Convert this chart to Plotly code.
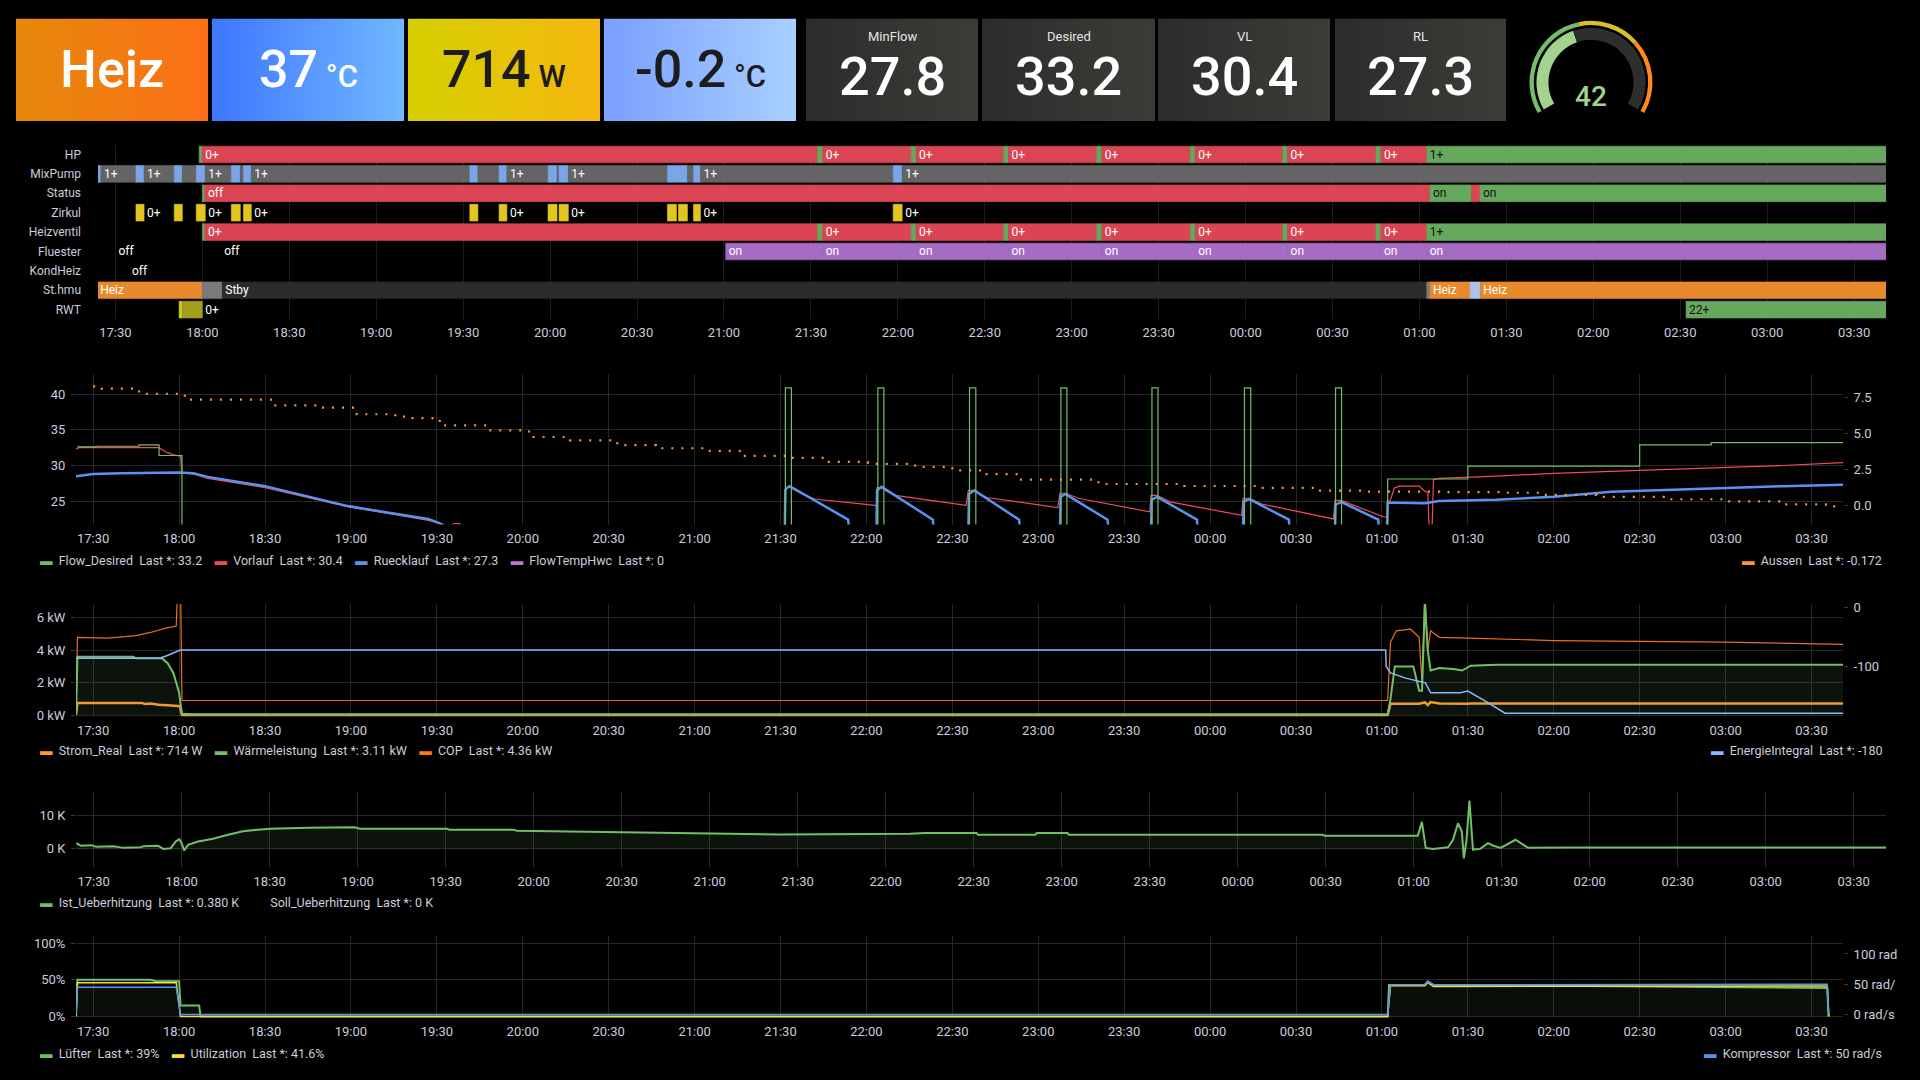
import plotly.graph_objects as go
from datetime import datetime, timedelta

W, H = 1920, 1080
DAY = datetime(2024, 1, 10)


def T(s):
    p = [int(v) for v in s.split(":")]
    while len(p) < 3:
        p.append(0)
    d = DAY + timedelta(hours=p[0], minutes=p[1], seconds=p[2])
    if p[0] < 12:
        d += timedelta(days=1)
    return d


def TL(lst):
    return [T(s) for s in lst]


def fx(x):
    return x / W


def fy(y):
    return 1 - y / H


X_RANGE = [T("17:24"), T("03:41")]
TICK0 = T("17:30")

# ---------------- stat panels ----------------
stat_values = ["Heiz", "37", "714", "-0.2"]
stat_units = ["", "°C", "W", "°C"]
dark_titles = ["MinFlow", "Desired", "VL", "RL"]
dark_values = ["27.8", "33.2", "30.4", "27.3"]
gauge_value = 42
gauge_min, gauge_max = 0, 100
gauge_thresholds = [(0, 45, "#73bf69"), (45, 70, "#d8c028"), (70, 100, "#ff8a1c")]

# ---------------- state timeline ----------------
tl_rows = ["HP", "MixPump", "Status", "Zirkul", "Heizventil", "Fluester", "KondHeiz", "St.hmu", "RWT"]

hp_seg = [("17:58:54", "18:00:00", "1+"), ("18:00:00", "21:32:18", "0+"), ("21:32:18", "21:34:06", "1+"),
          ("21:34:06", "22:04:36", "0+"), ("22:04:36", "22:06:18", "1+"), ("22:06:18", "22:36:30", "0+"),
          ("22:36:30", "22:38:12", "1+"), ("22:38:12", "23:08:36", "0+"), ("23:08:36", "23:10:24", "1+"),
          ("23:10:24", "23:40:54", "0+"), ("23:40:54", "23:42:36", "1+"), ("23:42:36", "00:12:48", "0+"),
          ("00:12:48", "00:14:30", "1+"), ("00:14:30", "00:45:00", "0+"), ("00:45:00", "00:46:42", "1+"),
          ("00:46:42", "01:02:30", "0+"), ("01:02:30", "03:41:00", "1+")]
mix_seg = [("17:24:00", "17:25:00", "0"), ("17:25:00", "17:37:06", "1+"), ("17:37:06", "17:39:54", "0"),
           ("17:39:54", "17:50:18", "1+"), ("17:50:18", "17:53:06", "0"), ("17:53:06", "17:57:54", "1+"),
           ("17:57:54", "18:01:00", "0"), ("18:01:00", "18:10:00", "1+"), ("18:10:00", "18:13:06", "0"),
           ("18:13:06", "18:14:12", "1+"), ("18:14:12", "18:16:54", "0"), ("18:16:54", "19:32:18", "1+"),
           ("19:32:18", "19:35:06", "0"), ("19:35:06", "19:42:24", "1+"), ("19:42:24", "19:45:06", "0"),
           ("19:45:06", "19:59:18", "1+"), ("19:59:18", "20:02:24", "0"), ("20:02:24", "20:03:06", "1+"),
           ("20:03:06", "20:06:18", "0"), ("20:06:18", "20:40:30", "1+"), ("20:40:30", "20:47:24", "0"),
           ("20:47:24", "20:49:30", "1+"), ("20:49:30", "20:51:54", "0"), ("20:51:54", "21:58:24", "1+"),
           ("21:58:24", "22:01:30", "0"), ("22:01:30", "03:41:00", "1+")]
status_seg = [("18:00:00", "18:00:54", "on"), ("18:00:54", "01:03:36", "off"), ("01:03:36", "01:18:00", "on"),
              ("01:18:00", "01:20:54", "off"), ("01:20:54", "03:41:00", "on")]
zirkul_seg = [("17:37:06", "17:39:54", "1"), ("17:39:54", "17:50:18", "0+"), ("17:50:18", "17:53:06", "1"),
              ("17:53:06", "17:57:54", "0+"), ("17:57:54", "18:01:00", "1"), ("18:01:00", "18:10:00", "0+"),
              ("18:10:00", "18:13:06", "1"), ("18:13:06", "18:14:12", "0+"), ("18:14:12", "18:16:54", "1"),
              ("18:16:54", "19:32:18", "0+"), ("19:32:18", "19:35:06", "1"), ("19:35:06", "19:42:24", "0+"),
              ("19:42:24", "19:45:06", "1"), ("19:45:06", "19:59:18", "0+"), ("19:59:18", "20:02:24", "1"),
              ("20:02:24", "20:03:06", "0+"), ("20:03:06", "20:06:18", "1"), ("20:06:18", "20:40:30", "0+"),
              ("20:40:30", "20:43:36", "1"), ("20:43:36", "20:44:18", "0+"), ("20:44:18", "20:47:24", "1"),
              ("20:47:24", "20:49:30", "0+"), ("20:49:30", "20:51:54", "1"), ("20:51:54", "21:58:24", "0+"),
              ("21:58:24", "22:01:30", "1"), ("22:01:30", "03:41:00", "0+")]
heizventil_seg = [("18:00:00", "18:00:54", "1+"), ("18:00:54", "21:32:18", "0+"), ("21:32:18", "21:34:06", "1+"),
                  ("21:34:06", "22:04:36", "0+"), ("22:04:36", "22:06:18", "1+"), ("22:06:18", "22:36:30", "0+"),
                  ("22:36:30", "22:38:12", "1+"), ("22:38:12", "23:08:36", "0+"), ("23:08:36", "23:10:24", "1+"),
                  ("23:10:24", "23:40:54", "0+"), ("23:40:54", "23:42:36", "1+"), ("23:42:36", "00:12:48", "0+"),
                  ("00:12:48", "00:14:30", "1+"), ("00:14:30", "00:45:00", "0+"), ("00:45:00", "00:46:42", "1+"),
                  ("00:46:42", "01:02:30", "0+"), ("01:02:30", "03:41:00", "1+")]
fluester_seg = [("17:30:00", "18:06:30", "off"), ("18:06:30", "21:00:36", "off"), ("21:00:36", "21:34:06", "on"),
                ("21:34:06", "22:06:18", "on"), ("22:06:18", "22:38:12", "on"), ("22:38:12", "23:10:24", "on"),
                ("23:10:24", "23:42:36", "on"), ("23:42:36", "00:14:30", "on"), ("00:14:30", "00:46:42", "on"),
                ("00:46:42", "01:02:30", "on"), ("01:02:30", "03:41:00", "on")]
kondheiz_seg = [("17:34:42", "03:41:00", "off")]
sthmu_seg = [("17:23:42", "18:00:00", "Heiz"), ("18:00:00", "18:06:54", "_g"), ("18:06:54", "01:02:30", "Stby"),
             ("01:02:30", "01:03:36", "_g"), ("01:03:36", "01:17:30", "Heiz"), ("01:17:30", "01:21:00", "_b"),
             ("01:21:00", "03:41:00", "Heiz")]
rwt_seg = [("17:52:00", "17:53:00", "_y"), ("17:53:00", "18:00:00", "_o"), ("18:00:00", "02:32:00", "0+"),
           ("02:32:00", "03:41:00", "22+")]

GREEN, RED, GRAY, BLUE = "#66a95d", "#da4453", "#646464", "#7aa6e8"
YEL, PURP, ORNG, NONE = "#e0c61e", "#a66cc4", "#e88a2c", "rgba(0,0,0,0)"
state_style = {
    "HP": {"1+": (GREEN, "#111111"), "0+": (RED, "#ffffff")},
    "MixPump": {"1+": (GRAY, "#ffffff"), "0": (BLUE, "#111111")},
    "Status": {"on": (GREEN, "#111111"), "off": (RED, "#ffffff")},
    "Zirkul": {"1": (YEL, "#111111"), "0+": (NONE, "#ffffff")},
    "Heizventil": {"1+": (GREEN, "#111111"), "0+": (RED, "#ffffff")},
    "Fluester": {"on": (PURP, "#ffffff"), "off": (NONE, "#ffffff")},
    "KondHeiz": {"off": (NONE, "#ffffff")},
    "St.hmu": {"Heiz": (ORNG, "#ffffff"), "_g": ("#7b7b7b", "#fff"), "Stby": ("#2b2b2b", "#ffffff"),
               "_b": ("#aac4f0", "#111")},
    "RWT": {"_y": ("#d9c923", "#111"), "_o": ("#a29e1a", "#111"), "0+": (NONE, "#ffffff"),
            "22+": (GREEN, "#111111")},
}
tl_data = {"HP": hp_seg, "MixPump": mix_seg, "Status": status_seg, "Zirkul": zirkul_seg,
           "Heizventil": heizventil_seg, "Fluester": fluester_seg, "KondHeiz": kondheiz_seg,
           "St.hmu": sthmu_seg, "RWT": rwt_seg}
LABEL_MIN_MINUTES = 8  # state text is only drawn where it fits, as in the dashboard

# ---------------- temperatures ----------------
flow_desired_t = ["17:24:30", "17:31:00", "17:46:00", "17:53:00", "18:01:00", "21:31:42", "21:33:48", "22:04:00",
                  "22:06:06", "22:36:00", "22:38:12", "23:07:54", "23:10:00", "23:39:42", "23:41:48", "00:12:00",
                  "00:14:12", "00:43:48", "00:45:54", "01:02:00", "01:30:00", "02:30:00", "02:55:00", "03:41:00"]
flow_desired_v = [32.6, 32.7, 32.9, 31.4, 0, 40.9, 0, 40.9, 0, 40.9, 0, 40.9, 0, 40.9, 0, 40.9, 0, 40.9, 0,
                  28.1, 29.9, 32.9, 33.2, 33.2]

vorlauf_t = ["17:24:00", "17:25:00", "17:53:00", "17:54:00", "17:56:00", "17:58:00", "18:00:30", "18:01:00",
             "18:05:00", "18:10:00", "18:30:00", "18:59:00", "19:11:00", "19:27:00", "19:32:00", "19:34:00",
             "19:36:00", "19:38:00", "19:39:00", "21:31:36", "21:31:48", "21:33:00", "21:38:00", "21:42:00",
             "22:03:00", "22:03:30", "22:03:42", "22:05:30", "22:07:00", "22:10:00", "22:34:48", "22:35:36",
             "22:37:30", "22:42:00", "23:06:48", "23:07:36", "23:09:30", "23:14:00", "23:38:54", "23:39:24",
             "23:41:30", "23:46:00", "00:11:00", "00:11:30", "00:13:36", "00:18:00", "00:43:06", "00:43:36",
             "00:45:42", "00:50:00", "01:00:30", "01:01:48", "01:02:00", "01:03:00", "01:04:18", "01:06:00",
             "01:13:00", "01:15:00", "01:16:00", "01:16:30", "01:17:30", "01:18:00", "01:20:00", "01:40:00",
             "02:00:00", "02:30:00", "03:00:00", "03:20:00", "03:41:00"]
vorlauf_v = [32.3, 32.5, 32.5, 32.2, 31.8, 31.5, 31.3, 29.0, 28.8, 28.2, 26.9, 24.2, 23.4, 22.3, 21.8, 21.2,
             21.85, 21.85, 21.0, 21.0, 26.8, 27.0, 25.9, 25.3, 24.4, 24.2, 26.9, 26.9, 26.4, 25.8, 24.4, 26.5,
             26.5, 25.5, 24.1, 26.1, 26.1, 25.4, 23.5, 25.8, 25.8, 24.9, 23.0, 25.4, 25.4, 24.6, 22.5, 25.1,
             25.1, 24.4, 22.8, 22.7, 24.9, 25.2, 26.8, 27.1, 27.1, 26.4, 26.2, 21.0, 21.0, 28.0, 28.2, 28.5,
             28.9, 29.3, 29.7, 30.0, 30.4]

ruecklauf_t = ["17:24:00", "17:30:00", "17:40:00", "18:00:00", "18:05:00", "18:10:00", "18:30:00", "18:59:00",
               "19:11:00", "19:27:00", "19:31:00", "19:33:00", "21:31:30", "21:31:42", "21:33:00", "21:35:00",
               "21:53:36", "21:54:00", "22:03:30", "22:03:42", "22:05:18", "22:23:12", "22:23:30", "22:35:36",
               "22:35:48", "22:37:42", "22:53:18", "22:53:36", "23:07:36", "23:07:48", "23:09:24", "23:24:12",
               "23:24:30", "23:39:24", "23:39:36", "23:41:30", "23:55:24", "23:55:42", "00:11:30", "00:11:42",
               "00:13:36", "00:27:30", "00:27:48", "00:43:36", "00:43:48", "00:45:42", "00:58:42", "00:59:00",
               "01:01:48", "01:02:00", "01:15:00", "01:20:00", "01:40:00", "02:00:00", "02:20:00", "02:40:00",
               "03:00:00", "03:20:00", "03:41:00"]
ruecklauf_v = [28.5, 28.8, 28.9, 29.0, 28.9, 28.4, 27.1, 24.3, 23.5, 22.5, 21.9, 21.0, 21.0, 26.6, 27.1, 26.7,
               22.4, 21.0, 21.0, 26.5, 27.0, 22.4, 21.0, 21.0, 26.0, 26.5, 22.4, 21.0, 21.0, 25.6, 26.0, 22.4,
               21.0, 21.0, 25.2, 25.6, 22.4, 21.0, 21.0, 24.9, 25.3, 22.4, 21.0, 21.0, 24.5, 24.9, 22.4, 21.0,
               21.0, 24.8, 24.7, 25.0, 25.2, 25.6, 26.3, 26.6, 26.9, 27.1, 27.3]

flowtemphwc_t = ["17:24:00", "03:41:00"]
flowtemphwc_v = [0, 0]

aussen_t = ["17:30", "17:33", "17:46", "18:02", "18:33", "18:49:30", "19:02", "19:15:30", "19:19", "19:31",
            "19:47:30", "20:01", "20:03", "20:16:30", "20:33", "20:46:30", "21:03:30", "21:16:30", "21:33:30",
            "21:46:30", "22:00:30", "22:17", "22:30", "22:41", "22:53", "23:21", "23:51", "00:18", "00:37",
            "00:55", "01:20", "01:42", "01:55", "02:15", "02:40", "03:00", "03:20", "03:35", "03:40"]
aussen_v = [8.28, 8.12, 7.77, 7.36, 6.97, 6.81, 6.35, 6.19, 6.08, 5.57, 5.23, 5.15, 4.77, 4.54, 4.2, 3.99, 3.81,
            3.46, 3.32, 3.05, 2.91, 2.7, 2.45, 2.2, 1.81, 1.51, 1.37, 1.24, 1.05, 0.98, 0.95, 0.9, 0.76, 0.62,
            0.45, 0.3, 0.09, -0.05, -0.17]

# ---------------- power ----------------
strom_t = ["17:24:00", "17:24:30", "17:47:00", "17:48:00", "17:50:00", "17:53:00", "17:56:00", "17:59:00",
           "18:00:20", "18:01:00", "01:02:00", "01:03:00", "01:10:00", "01:13:00", "01:15:00", "01:16:00",
           "01:17:00", "01:20:00", "01:30:00", "01:31:00", "02:00:00", "03:00:00", "03:41:00"]
strom_v = [0, 0.75, 0.75, 0.69, 0.72, 0.63, 0.6, 0.57, 0.55, 0.0, 0.0, 0.7, 0.72, 0.7, 0.78, 0.62, 0.8, 0.72,
           0.7, 0.72, 0.72, 0.72, 0.714]

waerme_t = ["17:24:00", "17:24:30", "17:44:00", "17:45:00", "17:54:00", "17:56:00", "17:58:00", "17:59:00",
            "18:00:00", "18:01:00", "18:05:00", "01:02:00", "01:03:00", "01:04:30", "01:11:00", "01:13:00",
            "01:14:00", "01:15:00", "01:16:00", "01:17:00", "01:20:00", "01:25:00", "01:28:00", "01:31:00",
            "01:40:00", "02:30:00", "03:41:00"]
waerme_v = [0, 3.6, 3.6, 3.5, 3.5, 3.2, 2.6, 2.0, 1.4, 0.08, 0.05, 0.05, 1.0, 3.0, 3.0, 1.5, 1.5, 7.0, 4.0, 2.75,
            2.9, 2.85, 2.75, 3.05, 3.1, 3.1, 3.11]

cop_t = ["17:24:00", "17:24:30", "17:35:00", "17:45:00", "17:50:00", "17:55:00", "17:59:00", "17:59:30",
         "18:00:30", "18:01:00", "01:02:00", "01:03:00", "01:05:00", "01:10:00", "01:13:00", "01:14:00",
         "01:15:00", "01:16:00", "01:17:00", "01:20:00", "01:30:00", "02:00:00", "02:30:00", "03:00:00", "03:41:00"]
cop_v = [0, 4.8, 4.75, 4.9, 5.1, 5.35, 5.5, 8.0, 8.0, 0.9, 0.9, 4.5, 5.2, 5.3, 4.8, 2.0, 7.5, 4.0, 5.2, 4.8,
         4.75, 4.6, 4.55, 4.5, 4.36]

energie_t = ["17:24:00", "17:53:00", "17:55:00", "17:57:00", "17:59:00", "18:00:30", "01:01:18", "01:01:30",
             "01:03:00", "01:08:18", "01:15:12", "01:17:00", "01:27:24", "01:30:00", "01:36:00", "01:43:00",
             "03:41:00"]
energie_v = [-86, -86, -83, -79, -75, -72, -72, -100, -111, -120, -128, -145, -145, -142, -159, -180, -180]

# ---------------- superheat ----------------
ueber_t = ["17:24:06", "17:25:48", "17:29:12", "17:30:54", "17:36:48", "17:40:12", "17:46:06", "17:47:00",
           "17:52:00", "17:53:48", "17:56:18", "17:58:00", "17:59:12", "18:00:00", "18:00:54", "18:02:12",
           "18:05:36", "18:10:42", "18:15:48", "18:20:54", "18:26:00", "18:30:12", "18:43:00", "18:59:00",
           "19:00:48", "19:30:24", "19:31:18", "19:53:18", "19:54:12", "20:12:00", "20:29:48", "20:50:12",
           "21:12:12", "21:23:42", "22:08:18", "22:13:24", "22:31:00", "22:31:30", "22:51:00", "22:51:30",
           "23:02:00", "23:02:30", "00:28:48", "00:29:42", "01:01:24", "01:02:48", "01:04:06", "01:06:36",
           "01:11:42", "01:13:24", "01:15:06", "01:16:24", "01:17:06", "01:18:00", "01:19:00", "01:20:12",
           "01:22:42", "01:25:18", "01:27:00", "01:29:36", "01:34:42", "01:39:00", "01:52:24", "03:41:00"]
ueber_v = [1.7, 0.9, 1.1, 0.6, 0.8, 0.3, 0.5, 0.8, 0.9, 0.0, 0.2, 2.2, 2.9, 1.7, -0.5, 1.2, 2.2, 3.0, 4.2, 5.2,
           5.7, 6.0, 6.3, 6.4, 6.0, 6.0, 5.7, 5.7, 5.4, 5.2, 5.0, 4.7, 4.4, 4.3, 4.5, 4.7, 4.7, 4.2, 4.2, 4.7,
           4.7, 4.2, 4.2, 3.9, 3.9, 8.0, 0.3, 0.0, 0.5, 2.7, 7.6, 5.2, -2.8, 2.7, 14.3, -0.2, 0.0, 1.7, 1.0,
           0.3, 2.7, 0.3, 0.4, 0.38]

# ---------------- fan / utilisation / compressor ----------------
luefter_t = ["17:24:00", "17:24:30", "17:50:00", "17:52:00", "18:00:00", "18:00:30", "18:07:00", "18:07:30",
             "01:02:00", "01:02:30", "01:15:00", "01:16:00", "01:18:00", "03:35:30", "03:36:00"]
luefter_v = [0, 50, 50, 48, 48, 15, 15, 0, 0, 43, 43, 48, 43, 39, 0]
util_t = ["17:24:00", "17:24:30", "17:59:00", "18:00:30", "01:02:00", "01:03:00", "01:15:00", "01:16:00",
          "01:18:00", "03:35:30", "03:36:00"]
util_v = [0, 46, 46, 0, 0, 42, 42, 46, 41, 41.6, 0]
kompressor_t = ["17:24:00", "17:24:30", "17:59:00", "18:00:30", "01:02:00", "01:03:00", "01:15:00", "01:16:00",
                "01:18:00", "03:35:30", "03:36:00"]
kompressor_v = [0, 45, 45, 0, 0, 49, 49, 54, 49, 50, 0]

# ================= figure =================
FONT = "Roboto"
TXT = "#ccccdc"
GRID = "#262626"
fig = go.Figure()

# --- decoration axis (pixel coordinates) for stat panels ---
panel_boxes = [(16, 208), (212, 404), (408, 600), (604, 796)]
panel_grad = [("#e6890b", "#fc6f17"), ("#3f76ff", "#70b8ff"), ("#d5d000", "#f6b70f"), ("#7a9fff", "#a8d0ff")]
panel_txt = ["#ffffff", "#ffffff", "#1c1c1c", "#1c1c1c"]
dark_boxes = [(806, 978), (982, 1155), (1158, 1330), (1335, 1506)]
PY0, PY1 = 16, 119
for (x0, x1), (c0, c1) in list(zip(panel_boxes, panel_grad)) + [(b, ("#2c2c2c", "#3c3c37")) for b in dark_boxes]:
    fig.add_trace(go.Scatter(x=[x0, x1, x1, x0, x0], y=[PY0, PY0, PY1, PY1, PY0], mode="lines",
                             fill="toself", line=dict(width=0),
                             fillgradient=dict(type="horizontal", colorscale=[[0, c0], [1, c1]]),
                             xaxis="x6", yaxis="y9", hoverinfo="skip", showlegend=False))

annotations = []
for (x0, x1), v, u, c in zip(panel_boxes, stat_values, stat_units, panel_txt):
    txt = v if not u else f"{v}<span style='font-size:31px'> {u}</span>"
    annotations.append(dict(x=fx((x0 + x1) / 2), y=fy(67), xref="paper", yref="paper", text=txt,
                            showarrow=False, xanchor="center", yanchor="middle",
                            font=dict(family=FONT, size=52, color=c, weight=500)))
for (x0, x1), t, v in zip(dark_boxes, dark_titles, dark_values):
    annotations.append(dict(x=fx((x0 + x1) / 2), y=fy(34), xref="paper", yref="paper", text=t,
                            showarrow=False, xanchor="center", yanchor="middle",
                            font=dict(family=FONT, size=13, color="#e6e6e6")))
    annotations.append(dict(x=fx((x0 + x1) / 2), y=fy(74), xref="paper", yref="paper", text=v,
                            showarrow=False, xanchor="center", yanchor="middle",
                            font=dict(family=FONT, size=54, color="#ffffff", weight=500)))

# --- gauge ---
GCX, GCY = 1591, 80
sweep = 240
gap = (gauge_max - gauge_min) * (360 - sweep) / sweep
R1, R2 = 55, 62
fig.add_trace(go.Pie(values=[gauge_value - gauge_min, gauge_max - gauge_value, gap],
                     marker=dict(colors=["#a3d38e", "#2e2e2e", "rgba(0,0,0,0)"], line=dict(width=0)),
                     hole=0.78, sort=False, direction="clockwise", rotation=-sweep / 2,
                     textinfo="none", hoverinfo="skip", showlegend=False,
                     domain=dict(x=[fx(GCX - R1), fx(GCX + R1)], y=[fy(GCY + R1), fy(GCY - R1)])))
fig.add_trace(go.Pie(values=[b - a for a, b, c in gauge_thresholds] + [gap],
                     marker=dict(colors=[c for a, b, c in gauge_thresholds] + ["rgba(0,0,0,0)"], line=dict(width=0)),
                     hole=0.93, sort=False, direction="clockwise", rotation=-sweep / 2,
                     textinfo="none", hoverinfo="skip", showlegend=False,
                     domain=dict(x=[fx(GCX - R2), fx(GCX + R2)], y=[fy(GCY + R2), fy(GCY - R2)])))
annotations.append(dict(x=fx(GCX), y=fy(94), xref="paper", yref="paper", text=str(gauge_value),
                        showarrow=False, xanchor="center", yanchor="middle",
                        font=dict(family=FONT, size=28, color="#a3d38e", weight=500)))

# --- state timeline ---
ys, bases, durs, cols, texts, tcols = [], [], [], [], [], []
for row in tl_rows:
    for a, b, s in tl_data[row]:
        ta, tb = T(a), T(b)
        c, tc = state_style[row][s]
        ys.append(row)
        bases.append(ta)
        durs.append((tb - ta).total_seconds() * 1000)
        cols.append(c)
        fits = (tb - ta).total_seconds() >= LABEL_MIN_MINUTES * 60
        texts.append(s if (fits and not s.startswith("_")) else "")
        tcols.append(tc)
fig.add_trace(go.Bar(y=ys, x=durs, base=bases, orientation="h", width=0.86,
                     marker=dict(color=cols, line=dict(width=0.6, color=cols)), text=texts,
                     textposition="inside", insidetextanchor="start", textangle=0, constraintext="none",
                     textfont=dict(family=FONT, size=12, color=tcols),
                     xaxis="x", yaxis="y", hoverinfo="skip", showlegend=False))


def line(t, v, color, width, xa, ya, shape="linear", dash=None, fill=None, fillcolor=None):
    fig.add_trace(go.Scatter(x=TL(t), y=v, mode="lines", xaxis=xa, yaxis=ya,
                             line=dict(color=color, width=width, shape=shape, dash=dash),
                             fill=fill, fillcolor=fillcolor, hoverinfo="skip", showlegend=False))


# temperatures
line(flowtemphwc_t, flowtemphwc_v, "#b877d9", 1, "x2", "y2")
line(aussen_t, aussen_v, "#ff9830", 2.2, "x2", "y3", shape="hv", dash="2px,8px")
line(vorlauf_t, vorlauf_v, "#f2495c", 1.2, "x2", "y2")
line(ruecklauf_t, ruecklauf_v, "#5794f2", 2.5, "x2", "y2")
line(flow_desired_t, flow_desired_v, "#73bf69", 1.2, "x2", "y2", shape="hv")
# power
line(cop_t, cop_v, "#e8701e", 1.2, "x3", "y4")
line(strom_t, strom_v, "#ff9830", 2.5, "x3", "y4")
line(waerme_t, waerme_v, "#73bf69", 2, "x3", "y4", fill="tozeroy", fillcolor="rgba(115,191,105,0.1)")
line(energie_t, energie_v, "#8ab8ff", 1.5, "x3", "y5")
# superheat
line(ueber_t, ueber_v, "#73bf69", 2, "x4", "y6", fill="tozeroy", fillcolor="rgba(115,191,105,0.1)")
# fan
line(luefter_t, luefter_v, "#73bf69", 2, "x5", "y7", fill="tozeroy", fillcolor="rgba(115,191,105,0.08)")
line(util_t, util_v, "#fade2a", 1.5, "x5", "y7")
line(kompressor_t, kompressor_v, "#5794f2", 1.5, "x5", "y8")

# ---------------- axes ----------------
tfont = dict(family=FONT, size=13, color=TXT)


def time_axis(domain, anchor, grid=GRID):
    return dict(domain=[fx(domain[0]), fx(domain[1])], anchor=anchor, type="date", range=X_RANGE,
                tickformat="%H:%M", dtick=1800000, tick0=TICK0, showgrid=True, gridcolor=grid,
                zeroline=False, showline=False, ticks="", tickfont=tfont, ticklabelstandoff=4,
                fixedrange=True)


def val_axis(domain, anchor, rng, tv, tt, side="left", overlay=None, grid=True):
    d = dict(domain=[fy(domain[1]), fy(domain[0])], anchor=anchor, range=rng, tickvals=tv, ticktext=tt,
             showgrid=grid, gridcolor=GRID, zeroline=False, showline=False, ticks="outside", ticklen=4,
             tickcolor="#3a3a3a", tickfont=tfont, side=side, fixedrange=True, ticklabelstandoff=3)
    if overlay:
        d["overlaying"] = overlay
    return d


DY = 4  # vertical offset of the lower panels
fig.update_layout(
    xaxis=time_axis((98, 1886), "y", grid="#1c1c1c"),
    yaxis=dict(domain=[fy(319), fy(143)], anchor="x", type="category", categoryorder="array",
               categoryarray=tl_rows, range=[len(tl_rows) - 0.5, -0.5], showgrid=False, zeroline=False,
               ticks="", tickfont=dict(family=FONT, size=12, color=TXT), ticklabelstandoff=16,
               fixedrange=True),
    xaxis2=time_axis((76, 1843), "y2"),
    yaxis2=val_axis((374, 526), "x2", [21.7, 42.86], [25, 30, 35, 40], ["25", "30", "35", "40"]),
    yaxis3=val_axis((374, 526), "x2", [-1.31, 9.15], [0, 2.5, 5, 7.5], ["0.0", "2.5", "5.0", "7.5"],
                    side="right", overlay="y2", grid=False),
    xaxis3=time_axis((76, 1843), "y4"),
    yaxis4=val_axis((602 + DY, 716 + DY), "x3", [-0.12, 6.86], [0, 2, 4, 6], ["0 kW", "2 kW", "4 kW", "6 kW"]),
    yaxis5=val_axis((602 + DY, 716 + DY), "x3", [-186.4, 6.8], [-100, 0], ["-100", "0"], side="right",
                    overlay="y4", grid=False),
    xaxis4=time_axis((76, 1886), "y6"),
    yaxis6=val_axis((792 + DY, 868 + DY), "x4", [-5.59, 16.76], [0, 10], ["0 K", "10 K"]),
    xaxis5=time_axis((76, 1843), "y7"),
    yaxis7=val_axis((937 + DY, 1020 + DY), "x5", [-2.7, 109.5], [0, 50, 100], ["0%", "50%", "100%"]),
    yaxis8=val_axis((937 + DY, 1020 + DY), "x5", [-6.6, 129.5], [0, 50, 100], ["0 rad/s", "50 rad/", "100 rad"],
                    side="right", overlay="y7", grid=False),
    xaxis6=dict(domain=[0, 1], range=[0, W], visible=False, anchor="y9", fixedrange=True),
    yaxis9=dict(domain=[0, 1], range=[H, 0], visible=False, anchor="x6", fixedrange=True),
)

# ---------------- legends ----------------
def legend_text(items):
    parts = []
    for name, val, col in items:
        parts.append(f"<span style='color:{col}'>▬</span>&nbsp;&nbsp;{name}&nbsp;&nbsp;Last *: {val}")
    return "&nbsp;&nbsp;&nbsp;&nbsp;".join(parts)


legends = [
    (562, "left", [("Flow_Desired", "33.2", "#73bf69"), ("Vorlauf", "30.4", "#f2495c"),
                   ("Ruecklauf", "27.3", "#5794f2"), ("FlowTempHwc", "0", "#b877d9")]),
    (562, "right", [("Aussen", "-0.172", "#ff9830")]),
    (750 + DY, "left", [("Strom_Real", "714 W", "#ff9830"), ("Wärmeleistung", "3.11 kW", "#73bf69"),
                        ("COP", "4.36 kW", "#ff780a")]),
    (750 + DY, "right", [("EnergieIntegral", "-180", "#8ab8ff")]),
    (903 + DY, "left", [("Ist_Ueberhitzung", "0.380 K", "#73bf69"), ("Soll_Ueberhitzung", "0 K", "#000000")]),
    (1055 + DY, "left", [("Lüfter", "39%", "#73bf69"), ("Utilization", "41.6%", "#fade2a")]),
    (1055 + DY, "right", [("Kompressor", "50 rad/s", "#5794f2")]),
]
for y, side, items in legends:
    annotations.append(dict(x=fx(38) if side == "left" else fx(1884), y=fy(y), xref="paper", yref="paper",
                            text=legend_text(items), showarrow=False,
                            xanchor="left" if side == "left" else "right", yanchor="middle",
                            font=dict(family=FONT, size=12.5, color=TXT)))

fig.update_layout(
    width=W, height=H, margin=dict(l=0, r=0, t=0, b=0), autosize=False,
    paper_bgcolor="#000000", plot_bgcolor="rgba(0,0,0,0)",
    font=dict(family=FONT, color=TXT), showlegend=False, barmode="overlay",
    annotations=annotations,
)

fig.write_html("out.html", config={"displayModeBar": False},
               post_script="document.body.style.margin='0px';document.body.style.background='#000';")
